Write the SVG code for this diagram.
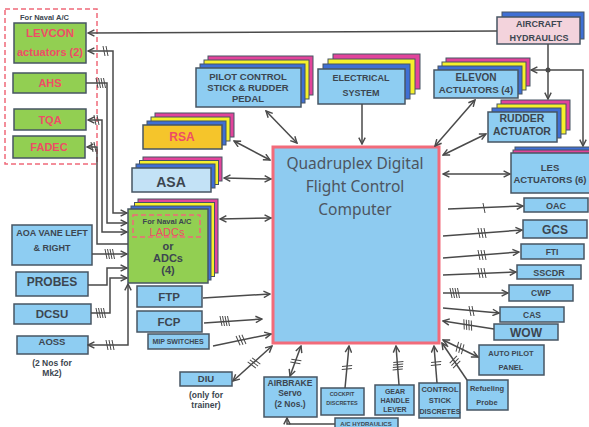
<svg xmlns="http://www.w3.org/2000/svg" width="589" height="427" viewBox="0 0 589 427">
<defs>
<style>
.ln{stroke:#4a4a4a;stroke-width:1.5;fill:none}
.arr{marker-end:url(#ah)}
.dbl{marker-start:url(#ah);marker-end:url(#ah)}
.st{marker-start:url(#ah)}
.box{fill:#8ecdf2;stroke:#475563;stroke-width:1.5}
.pale{fill:#c3e2f6;stroke:#475563;stroke-width:1.5}
.grn{fill:#92cf52;stroke:#475563;stroke-width:1.5}
.ylw{fill:#f5c52b;stroke:#475563;stroke-width:1.5}
.pnk{fill:#f3d3dc;stroke:#475563;stroke-width:1.5}
.lB{fill:#3f6fd4;stroke:#475563;stroke-width:1}
.lY{fill:#f6f02c;stroke:#475563;stroke-width:1}
.lM{fill:#e2449b;stroke:#475563;stroke-width:1}
.dash{fill:none;stroke:#f0697a;stroke-width:1.5;stroke-dasharray:5 3}
.t{font-family:"Liberation Sans",Arial,sans-serif;font-weight:bold;fill:#3c4650;text-anchor:middle}
.r{fill:#ee4d66}
.n{font-weight:normal}
.hat{stroke:#4a4a4a;stroke-width:1;fill:none}
</style>
<marker id="ah" viewBox="0 0 10 10" refX="9" refY="5" markerWidth="8" markerHeight="8" markerUnits="userSpaceOnUse" orient="auto-start-reverse">
<path d="M1,1 L9,5 L1,9" fill="none" stroke="#4a4a4a" stroke-width="1.8"/>
</marker>
<path id="h1" d="M-1,-5 L1,5"/>
<path id="h2" d="M-3,-5 L-1,5 M0,-5 L2,5"/>
<path id="h3" d="M-4,-5 L-2,5 M-1,-5 L1,5 M2,-5 L4,5"/>
<path id="h4" d="M-5,-5 L-3,5 M-2.5,-5 L-0.5,5 M0,-5 L2,5 M2.5,-5 L4.5,5"/>
</defs>
<rect width="589" height="427" fill="#fff"/>

<!-- naval-only group on the left -->
<g id="naval">
<rect class="dash" x="5" y="9" width="92" height="155"/>
<text class="t" x="20" y="20" font-size="7.5" text-anchor="start" style="text-anchor:start">For Naval A/C</text>
</g>
<g id="levcon">
<rect class="grn" x="14" y="23" width="72" height="40"/>
<text class="t r" x="50" y="37" font-size="11.5">LEVCON</text>
<text class="t r" x="50" y="56" font-size="11">actuators (2)</text>
</g>
<g id="ahs">
<rect class="grn" x="13" y="73" width="73" height="20"/>
<text class="t r" x="50" y="87" font-size="11">AHS</text>
</g>
<g id="tqa">
<rect class="grn" x="14" y="109" width="72" height="21"/>
<text class="t r" x="50" y="124" font-size="11">TQA</text>
</g>
<g id="fadec">
<rect class="grn" x="13" y="136" width="72" height="22"/>
<text class="t r" x="49" y="151" font-size="11">FADEC</text>
</g>

<!-- sensors on the left -->
<g id="aoa">
<rect class="box" x="12" y="225" width="80" height="40"/>
<text class="t" x="52" y="236" font-size="9">AOA VANE LEFT</text>
<text class="t" x="52" y="251" font-size="9">&amp; RIGHT</text>
</g>
<g id="probes">
<rect class="box" x="16" y="272" width="72" height="24"/>
<text class="t" x="52" y="286" font-size="12">PROBES</text>
</g>
<g id="dcsu">
<rect class="box" x="14" y="304" width="77" height="20"/>
<text class="t" x="52" y="318" font-size="11.5">DCSU</text>
</g>
<g id="aoss">
<rect class="box" x="17" y="336" width="71" height="18"/>
<text class="t" x="52" y="345" font-size="9.5">AOSS</text>
<text class="t" x="52" y="366" font-size="8.5">(2 Nos for</text>
<text class="t" x="52" y="376" font-size="8.5">Mk2)</text>
</g>

<!-- stacked units -->
<g id="pilot">
<rect class="lM" x="208" y="56" width="105" height="39"/>
<rect class="lY" x="204" y="60" width="105" height="39"/>
<rect class="lB" x="200" y="64" width="105" height="39"/>
<rect class="box" x="196" y="68" width="105" height="39"/>
<text class="t" x="248" y="80" font-size="9.5">PILOT CONTROL</text>
<text class="t" x="248" y="91" font-size="9.5">STICK &amp; RUDDER</text>
<text class="t" x="248" y="102" font-size="9.5">PEDAL</text>
</g>
<g id="electrical">
<rect class="lM" x="333" y="54" width="87" height="35"/>
<rect class="lY" x="328" y="59" width="87" height="35"/>
<rect class="lB" x="323" y="64" width="87" height="35"/>
<rect class="box" x="318" y="69" width="87" height="35"/>
<text class="t" x="361" y="81" font-size="9">ELECTRICAL</text>
<text class="t" x="361" y="96" font-size="9">SYSTEM</text>
</g>
<g id="elevon">
<rect class="lM" x="446" y="58" width="84" height="28"/>
<rect class="lY" x="442" y="62" width="84" height="28"/>
<rect class="lB" x="438" y="66" width="84" height="28"/>
<rect class="box" x="434" y="70" width="84" height="28"/>
<text class="t" x="476" y="81" font-size="10">ELEVON</text>
<text class="t" x="476" y="93" font-size="9.7">ACTUATORS (4)</text>
</g>
<g id="hydraulics">
<rect class="lB" x="502" y="12" width="82" height="27"/>
<rect class="pnk" x="497" y="17" width="83" height="27"/>
<text class="t" x="539" y="27" font-size="9">AIRCRAFT</text>
<text class="t" x="539" y="41" font-size="9">HYDRAULICS</text>
</g>
<g id="rudder">
<rect class="lM" x="501" y="100" width="69" height="30"/>
<rect class="lY" x="497" y="104" width="69" height="30"/>
<rect class="lB" x="492" y="108" width="69" height="30"/>
<rect class="box" x="488" y="112" width="69" height="30"/>
<text class="t" x="522" y="122" font-size="10.5">RUDDER</text>
<text class="t" x="522" y="135" font-size="10.5">ACTUATOR</text>
</g>
<g id="les">
<rect class="lB" x="515" y="147" width="80" height="40"/>
<rect class="lM" x="513" y="150" width="80" height="40"/>
<rect class="box" x="511" y="153" width="80" height="40"/>
<text class="t" x="550" y="171" font-size="9.5">LES</text>
<text class="t" x="550" y="183" font-size="9.5">ACTUATORS (6)</text>
</g>
<g id="rsa">
<rect class="lM" x="155" y="113" width="79" height="24"/>
<rect class="lY" x="151" y="117" width="79" height="24"/>
<rect class="lB" x="147" y="121" width="79" height="24"/>
<rect class="ylw" x="143" y="125" width="79" height="24"/>
<text class="t r" x="182" y="141" font-size="12">RSA</text>
</g>
<g id="asa">
<rect class="lM" x="143" y="157" width="79" height="24"/>
<rect class="lY" x="139.5" y="160.5" width="79" height="24"/>
<rect class="lB" x="136" y="164" width="79" height="24"/>
<rect class="pale" x="132" y="168" width="79" height="24"/>
<text class="t" x="171" y="187" font-size="14">ASA</text>
</g>
<g id="adc">
<rect class="lM" x="138" y="199" width="80" height="74"/>
<rect class="lY" x="134.5" y="202.5" width="80" height="74"/>
<rect class="lB" x="131" y="206" width="80" height="74"/>
<rect class="grn" x="128" y="209" width="80" height="74"/>
<rect class="dash" x="133" y="215" width="67" height="22"/>
<text class="t" x="167" y="224" font-size="7.5">For Naval A/C</text>
<text class="t r n" x="167" y="236" font-size="11">LADCs</text>
<text class="t" x="168" y="250" font-size="11">or</text>
<text class="t" x="168" y="262" font-size="11">ADCs</text>
<text class="t" x="168" y="274" font-size="11">(4)</text>
</g>

<!-- flight control computer -->
<g id="fcc">
<rect x="273" y="147" width="166" height="196" fill="#8ecbf0" stroke="#f26b7a" stroke-width="3"/>
<text x="355" y="169" font-family="'Noto Sans','Open Sans',sans-serif" font-size="15.5" fill="#4d5560" text-anchor="middle">Quadruplex Digital</text>
<text x="355" y="192" font-family="'Noto Sans','Open Sans',sans-serif" font-size="15.5" fill="#4d5560" text-anchor="middle">Flight Control</text>
<text x="355" y="215" font-family="'Noto Sans','Open Sans',sans-serif" font-size="15.5" fill="#4d5560" text-anchor="middle">Computer</text>
</g>

<!-- panels below the ADCs -->
<g id="ftp">
<rect class="box" x="137" y="286" width="65" height="21"/>
<text class="t" x="169" y="301" font-size="11.5">FTP</text>
</g>
<g id="fcp">
<rect class="box" x="137" y="311" width="65" height="21"/>
<text class="t" x="169" y="326" font-size="11.5">FCP</text>
</g>
<g id="mip">
<rect class="box" x="148" y="334" width="61" height="15"/>
<text class="t" x="178" y="344" font-size="7">MIP  SWITCHES</text>
</g>
<g id="diu">
<rect class="box" x="180" y="372" width="52" height="14"/>
<text class="t" x="206" y="382" font-size="9.5">DIU</text>
<text class="t" x="206" y="398" font-size="8.5">(only for</text>
<text class="t" x="206" y="408" font-size="8.5">trainer)</text>
</g>

<!-- bottom row -->
<g id="airbrake">
<rect class="box" x="264" y="377" width="53" height="40"/>
<text class="t" x="290" y="386" font-size="8.5">AIRBRAKE</text>
<text class="t" x="290" y="396" font-size="8.5">Servo</text>
<text class="t" x="290" y="407" font-size="8.5">(2 Nos.)</text>
</g>
<g id="cockpit">
<rect class="box" x="321" y="388" width="43" height="27"/>
<text class="t" x="342" y="396" font-size="5.5">COCKPIT</text>
<text class="t" x="342" y="405" font-size="5.5">DISCRETES</text>
</g>
<g id="gear">
<rect class="box" x="375" y="385" width="39" height="30"/>
<text class="t" x="395" y="394" font-size="7">GEAR</text>
<text class="t" x="395" y="403" font-size="7">HANDLE</text>
<text class="t" x="395" y="412" font-size="7">LEVER</text>
</g>
<g id="acHyd">
<rect class="box" x="335" y="418" width="63" height="12"/>
<text class="t" x="366" y="426" font-size="6">A/C HYDRAULICS</text>
</g>
<g id="stick">
<rect class="box" x="419" y="383" width="41" height="35"/>
<text class="t" x="440" y="392" font-size="7.5">CONTROL</text>
<text class="t" x="440" y="403" font-size="7.5">STICK</text>
<text class="t" x="440" y="414" font-size="7.2">DISCRETES</text>
</g>
<g id="refuel">
<rect class="box" x="467" y="380" width="41" height="30"/>
<text class="t" x="487" y="391" font-size="7.5">Refueling</text>
<text class="t" x="487" y="405" font-size="7.5">Probe</text>
</g>
<g id="autopilot">
<rect class="box" x="479" y="345" width="65" height="30"/>
<text class="t" x="511" y="356" font-size="7.5">AUTO PILOT</text>
<text class="t" x="511" y="370" font-size="7.5">PANEL</text>
</g>

<!-- outputs on the right -->
<g id="oac"><rect class="box" x="524" y="198" width="64" height="14"/><text class="t" x="556" y="209" font-size="9">OAC</text></g>
<g id="gcs"><rect class="box" x="523" y="220" width="64" height="18"/><text class="t" x="555" y="234" font-size="12">GCS</text></g>
<g id="fti"><rect class="box" x="521" y="244" width="63" height="15"/><text class="t" x="552" y="255" font-size="8.5">FTI</text></g>
<g id="sscdr"><rect class="box" x="517" y="265" width="64" height="14"/><text class="t" x="549" y="276" font-size="9">SSCDR</text></g>
<g id="cwp"><rect class="box" x="509" y="285" width="64" height="16"/><text class="t" x="541" y="296" font-size="8.5">CWP</text></g>
<g id="cas"><rect class="box" x="500" y="307" width="64" height="15"/><text class="t" x="532" y="318" font-size="8.5">CAS</text></g>
<g id="wow"><rect class="box" x="494" y="324" width="64" height="16"/><text class="t" x="526" y="337" font-size="12">WOW</text></g>

<!-- connectors -->
<g id="connectors" class="ln">
<path class="arr" d="M497,31 L88,33"/>
<path class="dbl" d="M88,51 L113,51 L113,213 L127,213"/>
<path class="arr" d="M86,83 L107,83 L107,223 L127,223"/>
<path class="dbl" d="M88,120 L102,120 L102,232 L127,232"/>
<path class="st" d="M87,147 L97,147 L97,244 L128,244"/>
<path class="arr" d="M92,254 L127,254"/>
<path class="arr" d="M88,285 L107,285 L107,268 L127,268"/>
<path class="arr" d="M91,313 L110,313 L110,278 L127,278"/>
<path class="dbl" d="M128,284 L128,345 L88,345"/>
<path class="dbl" d="M234,141 L270,160"/>
<path class="dbl" d="M224,178 L271,179"/>
<path class="dbl" d="M220,219 L271,218"/>
<path class="arr" d="M203,298 L270,294"/>
<path class="arr" d="M204,323 L262,319"/>
<path class="arr" d="M213,346 L271,334"/>
<path class="dbl" d="M233,381 L272,346"/>
<path class="dbl" d="M266,111 L297,143"/>
<path class="arr" d="M362,104 L362,144"/>
<path class="dbl" d="M475,100 L435,146"/>
<path class="dbl" d="M486,134 L443,155"/>
<path class="arr" d="M548,44 L548,99"/>
<path class="arr" d="M548,70 L531,70"/>
<path class="arr" d="M548,70 L583,70 L583,146"/>
<path class="dbl" d="M443,174 L510,174"/>
<path class="arr" d="M448,209 L523,206"/>
<path class="arr" d="M443,236 L522,230"/>
<path class="arr" d="M443,258 L519,252"/>
<path class="arr" d="M443,275 L516,272"/>
<path class="arr" d="M443,293 L508,293"/>
<path class="arr" d="M443,308 L499,313"/>
<path class="arr" d="M494,329 L443,321"/>
<path class="dbl" d="M443,340 L478,357"/>
<path class="arr" d="M467,380 L442,343"/>
<path class="arr" d="M437,383 L434,346"/>
<path class="arr" d="M399,385 L396,346"/>
<path class="arr" d="M345,388 L349,346"/>
<path class="dbl" d="M290,376 L301,346"/>
<path class="arr" d="M335,424 L287,424 L287,418"/>
<circle cx="548" cy="70" r="2.5" fill="#4a4a4a" stroke="none"/>
</g>

<!-- bus hatch marks -->
<g id="hatches" class="hat">
<use href="#h2" x="106" y="51"/>
<use href="#h4" x="101" y="83"/>
<use href="#h2" x="97" y="120"/>
<use href="#h2" x="94" y="147"/>
<use href="#h4" x="110" y="254"/>
<use href="#h4" x="101" y="313"/>
<use href="#h3" x="110" y="345"/>
<use href="#h4" x="225" y="321"/>
<use href="#h3" transform="translate(241,340) rotate(-12)"/>
<use href="#h3" transform="translate(254,363) rotate(-42)"/>
<use href="#h1" x="484" y="208"/>
<use href="#h3" x="482" y="233"/>
<use href="#h3" x="482" y="255"/>
<use href="#h3" x="482" y="273"/>
<use href="#h4" x="455" y="293"/>
<use href="#h2" x="472" y="311"/>
<use href="#h4" transform="translate(468,325) rotate(9)"/>
<use href="#h3" transform="translate(460,348) rotate(26)"/>
<use href="#h3" transform="translate(455,362) rotate(56)"/>
<use href="#h2" transform="translate(436,364) rotate(95)"/>
<use href="#h4" transform="translate(398,366) rotate(95)"/>
<use href="#h2" transform="translate(347,367) rotate(-85)"/>
<use href="#h2" transform="translate(296,361) rotate(-70)"/>
</g>
</svg>
